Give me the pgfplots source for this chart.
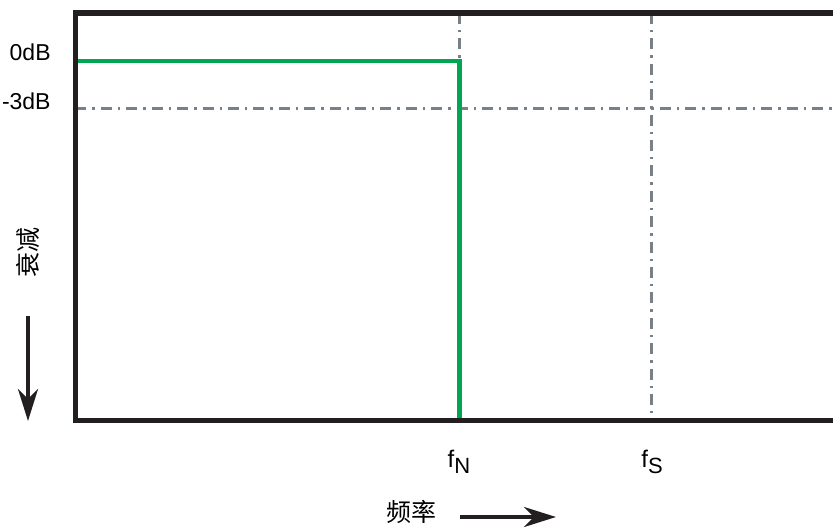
\documentclass[border=0pt]{standalone}
\usepackage{pgfplots}
\pgfplotsset{compat=1.18}
\usepackage{fontspec}
\setmainfont{Liberation Sans}
\newfontfamily\cjk{Noto Sans CJK SC}
\usetikzlibrary{arrows.meta}
\definecolor{fgreen}{HTML}{00A651}
\definecolor{dgray}{HTML}{7A8088}
\definecolor{frame}{HTML}{231F20}
\begin{document}
\begin{tikzpicture}
\begin{axis}[
  scale only axis, width=378.75pt, height=203.75pt,
  xmin=75.5, xmax=833, ymin=-420.5, ymax=-13,
  hide axis, clip=false,
]
\addplot[dgray, line width=1.3pt, dash pattern=on 5.5pt off 3pt on 1.2pt off 3pt] coordinates {(459.3,-13) (459.3,-420.5)};
\addplot[dgray, line width=1.3pt, dash pattern=on 5.5pt off 3pt on 1.2pt off 3pt] coordinates {(651.7,-13) (651.7,-420.5)};
\addplot[dgray, line width=1.3pt, dash pattern=on 5.5pt off 3pt on 1.2pt off 3pt] coordinates {(75.5,-108.3) (833,-108.3)};
\addplot[fgreen, line width=2.2pt, line join=miter] coordinates {(75.5,-61) (459.5,-61) (459.5,-420.5)};
\draw[frame, line width=2.6pt, line join=miter] (axis cs:833,-13) -- (axis cs:75.5,-13) -- (axis cs:75.5,-420.5) -- (axis cs:833,-420.5);
\node[anchor=base east, font=\fontsize{11.5}{12}\selectfont, inner sep=0pt] at (axis cs:51,-61) {0dB};
\node[anchor=base east, font=\fontsize{11.5}{12}\selectfont, inner sep=0pt] at (axis cs:51,-110) {-3dB};
\node[rotate=90, font=\cjk\fontsize{12.5}{14}\selectfont, inner sep=0pt] at (axis cs:28,-253) {衰减};
\draw[frame, line width=2pt, -{Stealth[length=16pt, width=10pt, inset=5pt]}] (axis cs:28,-316) -- (axis cs:28,-421);
\node[anchor=base, font=\fontsize{12}{12}\selectfont, inner sep=0pt] at (axis cs:459,-468) {f\raisebox{-0.4ex}{\fontsize{11}{12}\selectfont N}};
\node[anchor=base, font=\fontsize{12}{12}\selectfont, inner sep=0pt] at (axis cs:652,-468) {f\raisebox{-0.4ex}{\fontsize{11}{12}\selectfont S}};
\node[font=\cjk\fontsize{12.5}{14}\selectfont, inner sep=0pt] at (axis cs:411,-512) {频率};
\draw[frame, line width=2pt, -{Stealth[length=16pt, width=10pt, inset=5pt]}] (axis cs:460,-517) -- (axis cs:556,-517);
\coordinate (bl) at (axis cs:0,-528);
\coordinate (tr) at (axis cs:833,0);
\end{axis}
\pgfresetboundingbox
\useasboundingbox (bl) rectangle (tr);
\end{tikzpicture}
\end{document}
